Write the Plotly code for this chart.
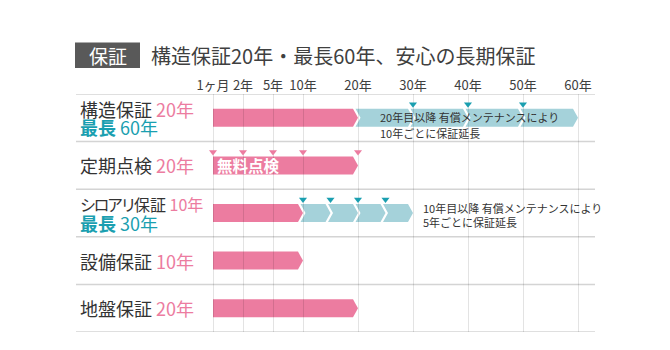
import numpy as np
import plotly.graph_objects as go

# ---- data -------------------------------------------------------------
TICK_YEARS = [1 / 12, 2, 5, 10, 20, 30, 40, 50, 60]
TICK_LABELS = ["1ヶ月", "2年", "5年", "10年", "20年", "30年", "40年", "50年", "60年"]

ROW_NAMES = ["構造保証", "定期点検", "シロアリ保証", "設備保証", "地盤保証"]
START_YEAR = 1 / 12
BASE_YEARS = [20, 20, 10, 10, 20]          # initial warranty period
MAX_YEARS = [60, None, 30, None, None]     # longest period with paid maintenance
EXT_STEPS = [10, None, 5, None, None]      # extension interval
EXT_MARKS = [[30, 40, 50], [], [10, 15, 20, 25], [], []]
CHECK_MARKS = [[], [1 / 12, 2, 5, 10, 20], [], [], []]
BAR_TEXT = ["", "無料点検", "", "", ""]
NOTES = {
    0: ["20年目以降 有償メンテナンスにより", "10年ごとに保証延長"],
    2: ["10年目以降 有償メンテナンスにより", "5年ごとに保証延長"],
}
TITLE_TAG = "保証"
TITLE = "構造保証20年・最長60年、安心の長期保証"

# ---- style ------------------------------------------------------------
PINK = "#EC7CA0"
TEAL_BAR = "#A5D2DA"
TEAL = "#1A9FB0"
DARK = "#333333"
FONT = "Noto Sans CJK JP"
KANA = "シロアリ"          # katakana run set with tighter tracking
KANA_TRACK = -2.5
LABEL_SIZE = 18
LONG_LABEL_SIZE = 16       # row name too long for the label column

W, H = 670, 350
ML, MR, MT, MB = 76, 75, 94, 18
PX_U = 30.0                  # pixels per axis unit
PX_ROW = (H - MT - MB) / len(ROW_NAMES)
ORIGIN_PX = 213 - ML         # pixel of the first tick inside the plot area

# non-linear time axis: equal steps up to 10 years, linear by decade after
DECADE_U = 55 / 30
TICK_POS = [0, 1, 2, 3] + [3 + DECADE_U * k for k in range(1, 6)]


def scale(year):
    return float(np.interp(year, TICK_YEARS, TICK_POS))


def px(n):
    return n / PX_U


def rpx(n):
    return n / PX_ROW


x_range = [-ORIGIN_PX / PX_U, (W - ML - MR - ORIGIN_PX) / PX_U]
half = rpx(9)
tip = px(5)
gap = px(2.5)

shapes = []
annotations = []


def path(points):
    return "M " + " L ".join(f"{x:.4f},{y:.4f}" for x, y in points) + " Z"


def label_name(name):
    if name.startswith(KANA):
        return f'<span style="letter-spacing:{KANA_TRACK}px">{KANA}</span>{name[len(KANA):]}'
    return name


# row separators
for i in range(len(ROW_NAMES) + 1):
    shapes.append(dict(type="line", xref="x domain", yref="y", x0=0, x1=1,
                       y0=i - 0.5, y1=i - 0.5,
                       line=dict(color="#D4D4D4", width=1.5), layer="below"))

traces = []
for i, name in enumerate(ROW_NAMES):
    c = i
    s, e = scale(START_YEAR), scale(BASE_YEARS[i])
    shapes.append(dict(type="path", xref="x", yref="y", layer="below",
                       path=path([(s, c - half), (e - tip, c - half), (e, c),
                                  (e - tip, c + half), (s, c + half)]),
                       fillcolor=PINK, line=dict(width=0)))
    if MAX_YEARS[i]:
        for a_y in range(BASE_YEARS[i], MAX_YEARS[i], EXT_STEPS[i]):
            a, b = scale(a_y), scale(a_y + EXT_STEPS[i])
            shapes.append(dict(type="path", xref="x", yref="y", layer="below",
                               path=path([(a - tip + gap, c - half), (b - tip, c - half), (b, c),
                                          (b - tip, c + half), (a - tip + gap, c + half),
                                          (a + gap, c)]),
                               fillcolor=TEAL_BAR, line=dict(width=0)))
    if EXT_MARKS[i]:
        traces.append(go.Scatter(x=[scale(v) for v in EXT_MARKS[i]],
                                 y=[c - half - rpx(4.5)] * len(EXT_MARKS[i]),
                                 mode="markers", hoverinfo="skip",
                                 marker=dict(symbol="triangle-down", size=7, color=TEAL,
                                             line=dict(width=0))))
    if CHECK_MARKS[i]:
        traces.append(go.Scatter(x=[scale(v) for v in CHECK_MARKS[i]],
                                 y=[c - half - rpx(4.5)] * len(CHECK_MARKS[i]),
                                 mode="markers", hoverinfo="skip",
                                 marker=dict(symbol="triangle-down", size=7, color=PINK,
                                             line=dict(width=0))))
    if BAR_TEXT[i]:
        annotations.append(dict(x=s, y=c, xref="x", yref="y", xanchor="left", yanchor="middle",
                                xshift=2, text=f"<b>{BAR_TEXT[i]}</b>", showarrow=False,
                                font=dict(size=15.5, color="white", family=FONT)))

    # row label
    line1 = (f'{label_name(name)} '
             f'<span style="color:{PINK}">{BASE_YEARS[i]}年</span>')
    size1 = LONG_LABEL_SIZE if len(name) > 4 else LABEL_SIZE
    if MAX_YEARS[i]:
        annotations.append(dict(x=0, y=c - rpx(9), xref="paper", yref="y", xanchor="left",
                                yanchor="middle", xshift=2, text=line1, showarrow=False,
                                font=dict(size=size1, color=DARK, family=FONT)))
        annotations.append(dict(x=0, y=c + rpx(9.5), xref="paper", yref="y", xanchor="left",
                                yanchor="middle", xshift=2,
                                text=f"<b>最長</b> {MAX_YEARS[i]}年", showarrow=False,
                                font=dict(size=LABEL_SIZE, color=TEAL, family=FONT)))
    else:
        annotations.append(dict(x=0, y=c, xref="paper", yref="y", xanchor="left",
                                yanchor="middle", xshift=2, text=line1, showarrow=False,
                                font=dict(size=size1, color=DARK, family=FONT)))

# notes beside the extension chevrons
note_anchor = {0: (scale(BASE_YEARS[0]), 20, -1, 15.5), 2: (scale(MAX_YEARS[2]), 8, -5.5, 8.5)}
for i, lines in NOTES.items():
    x0, dx, dy1, dy2 = note_anchor[i]
    for txt, dy in zip(lines, (dy1, dy2)):
        annotations.append(dict(x=x0, y=i + rpx(dy), xref="x", yref="y", xanchor="left",
                                yanchor="middle", xshift=dx, text=txt, showarrow=False,
                                font=dict(size=11, color=DARK, family=FONT)))

# heading
def paper_x(p):
    return (p - ML) / (W - ML - MR)


def paper_y(p):
    return (H - MB - p) / (H - MT - MB)


shapes.append(dict(type="rect", xref="paper", yref="paper",
                   x0=paper_x(75), x1=paper_x(140), y0=paper_y(68), y1=paper_y(42.5),
                   fillcolor="#595959", line=dict(width=0)))
annotations.append(dict(x=paper_x(107.5), y=paper_y(55.5), xref="paper", yref="paper",
                        xanchor="center", yanchor="middle", text=TITLE_TAG, showarrow=False,
                        font=dict(size=19, color="white", family=FONT)))
annotations.append(dict(x=paper_x(149), y=paper_y(55.5), xref="paper", yref="paper",
                        xanchor="left", yanchor="middle", text=TITLE, showarrow=False,
                        font=dict(size=20, color="#404040", family=FONT)))

fig = go.Figure(traces)
fig.update_layout(
    width=W, height=H, margin=dict(l=ML, r=MR, t=MT, b=MB),
    paper_bgcolor="white", plot_bgcolor="white", showlegend=False,
    font=dict(family=FONT, color=DARK),
    shapes=shapes, annotations=annotations,
    xaxis=dict(range=x_range, tickvals=TICK_POS, ticktext=TICK_LABELS, side="top",
               showgrid=True, gridcolor="rgba(0,0,0,0.11)", gridwidth=1,
               zeroline=False, showline=False, ticks="", automargin=False,
               tickfont=dict(size=13, color="#404040", family=FONT), fixedrange=True),
    yaxis=dict(range=[len(ROW_NAMES) - 0.5, -0.5], showgrid=False, zeroline=False,
               showticklabels=False, showline=False, automargin=False, fixedrange=True),
)
fig.write_html("out.html")
